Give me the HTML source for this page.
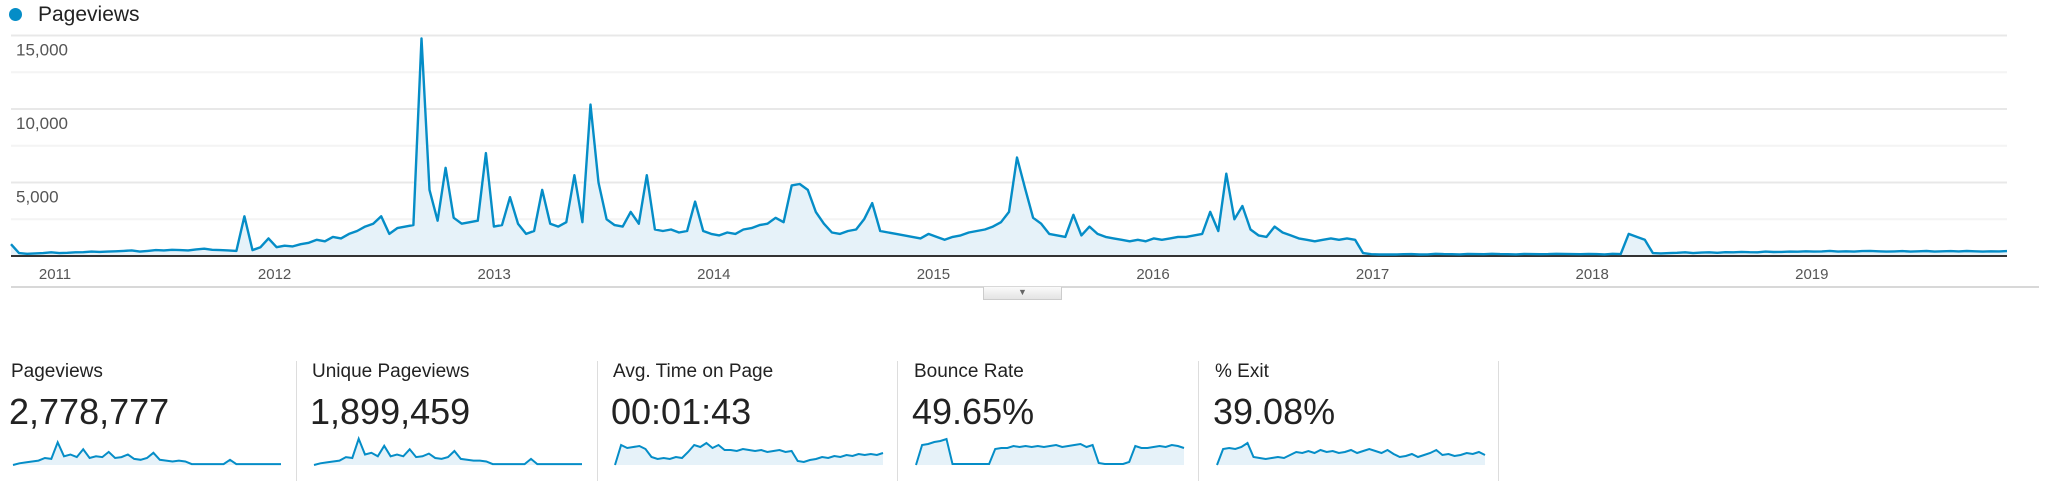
<!DOCTYPE html>
<html><head><meta charset="utf-8"><style>
body{margin:0;width:2048px;height:495px;background:#fff;overflow:hidden;font-family:"Liberation Sans",sans-serif;position:relative}
.a{position:absolute}
.lbl{font-size:19px;color:#222;white-space:nowrap}
.big{font-size:36px;color:#222;white-space:nowrap}
.div{width:1px;height:120px;top:361px;background:#ddd}
</style></head><body>
<div class="a" style="left:9px;top:8px;width:13px;height:13px;border-radius:50%;background:#058dc7"></div>
<div class="a" style="left:38px;top:3px;font-size:21px;color:#222">Pageviews</div>
<svg class="a" style="left:0;top:0" width="2048" height="300" id="main"></svg>
<div class="a" style="left:983px;top:287px;width:79px;height:13px;background:linear-gradient(#fafafa,#e4e4e4);border:1px solid #ccc;border-top:none;box-sizing:border-box;text-align:center;font-size:9px;line-height:11px;color:#666">▼</div>

<div class="a lbl" style="left:11px;top:361px">Pageviews</div>
<div class="a big" style="left:9px;top:391px">2,778,777</div>
<div class="a div" style="left:296px"></div>
<div class="a lbl" style="left:312px;top:361px">Unique Pageviews</div>
<div class="a big" style="left:310px;top:391px">1,899,459</div>
<div class="a div" style="left:597px"></div>
<div class="a lbl" style="left:613px;top:361px">Avg. Time on Page</div>
<div class="a big" style="left:611px;top:391px">00:01:43</div>
<div class="a div" style="left:897px"></div>
<div class="a lbl" style="left:914px;top:361px">Bounce Rate</div>
<div class="a big" style="left:912px;top:391px">49.65%</div>
<div class="a div" style="left:1198px"></div>
<div class="a lbl" style="left:1215px;top:361px">% Exit</div>
<div class="a big" style="left:1213px;top:391px">39.08%</div>
<div class="a div" style="left:1498px"></div>
<svg class="a" style="left:0;top:430px" width="2048" height="40" id="sparks"></svg>

<script>
const yTicks=[5000,10000,15000];
const yTickLabels=["5,000","10,000","15,000"];
const yearLabels=["2011","2012","2013","2014","2015","2016","2017","2018","2019"];
const yearCenters=[0.2,1.2,2.2,3.2,4.2,5.2,6.2,7.2,8.2];
const pageviews=[
800,200,150,180,200,250,200,220,250,260,300,280,300,320,350,380,300,350,400,380,420,400,380,450,500,420,400,380,350,2700,
400,600,1200,600,700,650,800,900,1100,1000,1300,1200,1500,1700,2000,2200,2700,1500,1900,2000,2100,14800,4500,2400,6000,2600,2200,2300,2400,7000,
2000,2100,4000,2200,1500,1700,4500,2200,2000,2300,5500,2300,10300,5000,2500,2100,2000,3000,2200,5500,1800,1700,1800,1600,1700,3700,1700,1500,1400,1600,
1500,1800,1900,2100,2200,2600,2300,4800,4900,4500,3000,2200,1600,1500,1700,1800,2500,3600,1700,1600,1500,1400,1300,1200,1500,1300,1100,1300,1400,1600,
1700,1800,2000,2300,3000,6700,4600,2600,2200,1500,1400,1300,2800,1400,2000,1500,1300,1200,1100,1000,1100,1000,1200,1100,1200,1300,1300,1400,1500,3000,
1700,5600,2500,3400,1800,1400,1300,2000,1600,1400,1200,1100,1000,1100,1200,1100,1200,1100,200,120,100,110,100,120,130,100,110,150,130,120,110,140,
130,120,150,130,120,110,140,130,120,130,150,140,130,120,140,130,110,150,130,1500,1300,1100,200,180,200,220,250,200,230,250,220,260,250,280,260,250,300,270,280,300,
290,320,300,310,350,300,320,300,330,350,320,300,310,330,300,320,340,300,320,330,
310,340,320,300,320,310,330
];
const sparkPV=[0,2,3,4,5,8,7,26,10,12,9,18,8,10,9,15,8,9,12,7,6,8,14,6,5,4,5,4,1,1,1,1,1,1,6,1,1,1,1,1,1,1,1];
const sparkUPV=[0,2,3,4,5,9,8,30,12,14,10,22,10,12,10,18,9,10,13,8,7,9,16,7,6,5,5,4,1,1,1,1,1,1,7,1,1,1,1,1,1,1,1];
const sparkTime=[0,20,17,18,19,16,8,6,7,6,8,7,13,20,18,22,17,20,15,15,14,16,15,14,15,13,14,15,13,14,4,3,5,6,8,7,9,8,10,9,11,10,11,10,12];
const sparkBounce=[0,20,21,23,24,26,1,1,1,1,1,1,1,16,17,17,19,18,19,18,19,18,19,20,18,19,20,21,18,20,2,1,1,1,1,3,19,17,17,18,19,18,20,19,17];
const sparkExit=[0,16,17,16,18,22,8,7,6,7,8,7,10,13,12,14,12,15,13,14,12,13,15,12,14,16,14,12,15,11,8,9,11,8,10,12,15,10,11,9,10,12,11,13,10];

const NS="http://www.w3.org/2000/svg";
function mk(p,t,a){const e=document.createElementNS(NS,t);for(const k in a)e.setAttribute(k,a[k]);p.appendChild(e);return e;}
const svg=document.getElementById('main');
const X0=11,X1=2007,Y0=256,PX=73.5/5000;
const yS=v=>Y0-v*PX;
const xS=i=>X0+i*(X1-X0)/(pageviews.length-1);
const yearX=t=>11+t*219.6+(55-11-0.2*219.6);
[2500,5000,7500,10000,12500,15000].forEach((v,k)=>{
 const g=mk(svg,'line',{x1:X0,x2:X1,y1:yS(v),y2:yS(v),stroke:(v%5000===0)?'#e8e8e8':'#f4f4f4','stroke-width':2});
 
 
});
yTicks.forEach((v,k)=>{
 const t=mk(svg,'text',{x:16,y:yS(v)+20,'font-size':17,fill:'#555','font-family':'Liberation Sans, sans-serif'});
 t.textContent=yTickLabels[k];
 
 
});
let d='';pageviews.forEach((v,i)=>{d+=(i?'L':'M')+xS(i).toFixed(1)+' '+yS(v).toFixed(1);});
const area=mk(svg,'path',{d:d+`L${X1} ${Y0}L${X0} ${Y0}Z`,fill:'#e6f2f9'});


const base=mk(svg,'line',{x1:X0,x2:X1,y1:Y0,y2:Y0,stroke:'#333','stroke-width':2});


const ln=mk(svg,'path',{d:d,fill:'none',stroke:'#058dc7','stroke-width':2.4,'stroke-linejoin':'round'});


yearLabels.forEach((y,k)=>{
 const t=mk(svg,'text',{x:yearX(yearCenters[k]),y:279,'font-size':15,fill:'#555','text-anchor':'middle','font-family':'Liberation Sans, sans-serif'});
 t.textContent=y;
 
 
});
const sep=mk(svg,'line',{x1:11,x2:2039,y1:287,y2:287,stroke:'#ccc','stroke-width':1.5});



const sp=document.getElementById('sparks');
const sparks=[[sparkPV,13,32,'pageviews-sparkline'],[sparkUPV,314,32,'unique-pageviews-sparkline'],[sparkTime,615,28,'avg-time-sparkline'],[sparkBounce,916,28,'bounce-rate-sparkline'],[sparkExit,1217,28,'exit-sparkline']];
sparks.forEach(([arr,x0,mx,name])=>{
 const w=268,h=28,b=35;
 const sx=i=>x0+i*w/(arr.length-1), sy=v=>b-v/mx*h;
 let p='';arr.forEach((v,i)=>{p+=(i?'L':'M')+sx(i).toFixed(1)+' '+sy(v).toFixed(1);});
 const a=mk(sp,'path',{d:p+`L${x0+w} ${b}L${x0} ${b}Z`,fill:'#e6f2f9'});
 
 
 const l=mk(sp,'path',{d:p,fill:'none',stroke:'#058dc7','stroke-width':2});
 
 
});
</script>
</body></html>
